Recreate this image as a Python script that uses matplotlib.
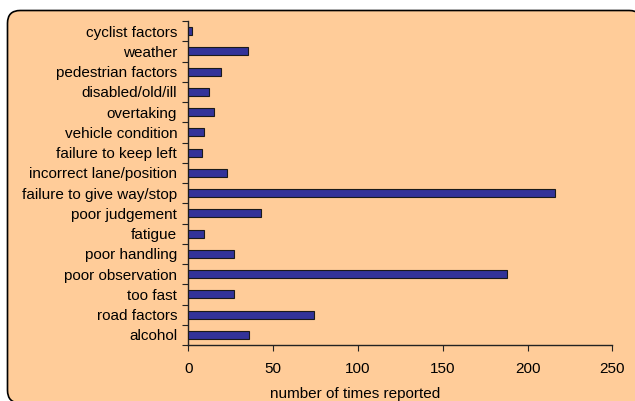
import matplotlib
matplotlib.use("Agg")
import matplotlib.pyplot as plt
from matplotlib.patches import FancyBboxPatch
import numpy as np

categories = ["alcohol", "road factors", "too fast", "poor observation", "poor handling",
              "fatigue", "poor judgement", "failure to give way/stop", "incorrect lane/position",
              "failure to keep left", "vehicle condition", "overtaking", "disabled/old/ill",
              "pedestrian factors", "weather", "cyclist factors"]
values = [36, 74, 27, 188, 27, 9, 43, 216, 23, 8, 9, 15, 12, 19, 35, 2]
xticks = [0, 50, 100, 150, 200, 250]
xlabel = "number of times reported"

plt.rcParams['font.family'] = ['Liberation Sans', 'DejaVu Sans']

W, H = 635, 401
fig = plt.figure(figsize=(W / 100, H / 100), dpi=100)
fig.patch.set_facecolor("white")

bg = FancyBboxPatch((7.5 / W, 1 - 403 / H), (642 - 7.5) / W, (403 - 10.5) / H,
                    boxstyle="round,pad=0,rounding_size=0.02",
                    transform=fig.transFigure, facecolor="#FFCC99",
                    edgecolor="black", linewidth=1.2, mutation_aspect=W / H, zorder=-5)
fig.patches.append(bg)

ax = fig.add_axes([188.3 / W, (H - 345) / H, (612.3 - 188.3) / W, (345 - 21) / H])
ax.set_facecolor("none")
ax.set_zorder(2)

y = np.arange(len(categories))
ax.barh(y, values, height=0.4, color="#333399", edgecolor="#1a1a1a", linewidth=0.8, zorder=3)

ax.set_xlim(0, 250)
ax.set_ylim(-0.5, len(categories) - 0.5)
ax.set_xticks(xticks)
ax.set_xticklabels([str(t) for t in xticks], fontsize=11)
ax.set_yticks(np.arange(-0.5, len(categories), 1.0))
ax.set_yticklabels([])
ax.set_yticks(y, minor=True)
ax.set_yticklabels(categories, minor=True, fontsize=11)
ax.tick_params(axis="y", which="minor", length=0, pad=8)
ax.tick_params(axis="y", which="major", length=4, direction="out", color="#222222")
ax.tick_params(axis="x", length=4, direction="out", color="#222222", pad=8)

for s in ["top", "right"]:
    ax.spines[s].set_visible(False)
for s in ["left", "bottom"]:
    ax.spines[s].set_color("#222222")
    ax.spines[s].set_linewidth(1.0)

fig.text(355 / W, 1 - 394 / H, xlabel, fontsize=11, ha="center", va="center")

fig.savefig("out.png", dpi=100)
